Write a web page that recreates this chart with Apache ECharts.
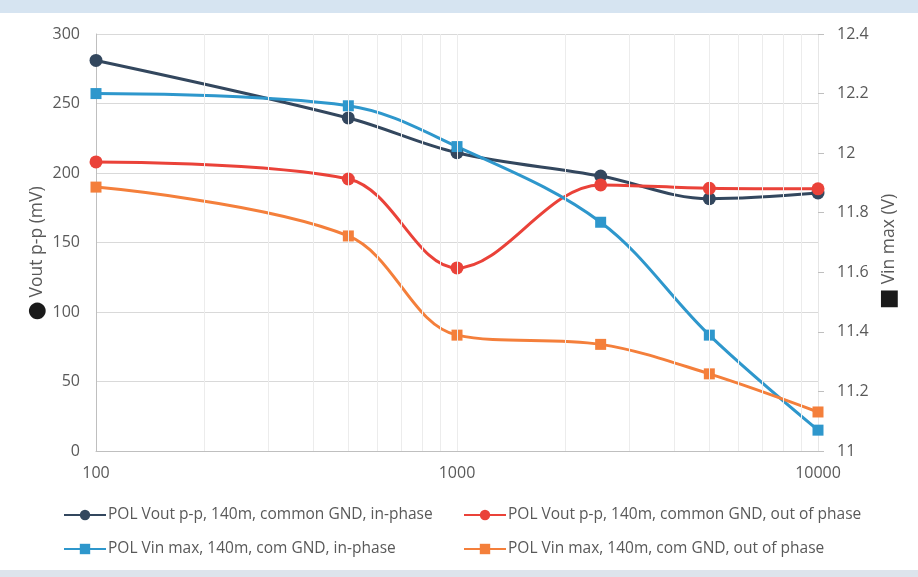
<!DOCTYPE html>
<html><head><meta charset="utf-8">
<script src="https://cdn.jsdelivr.net/npm/echarts@6/dist/echarts.min.js"></script>
<style>html,body{margin:0;padding:0;background:#fff}#c{width:918px;height:577px}
#topband{position:absolute;left:0;top:0;width:918px;height:13px;background:#d6e4f1}
#botband{position:absolute;left:0;top:570px;width:918px;height:7px;background:#dde4ec}</style>
</head><body>
<div id="c"></div><div id="topband"></div><div id="botband"></div>
<script>
const freqs = [100, 500, 1000, 2500, 5000, 10000];
const voutInPhase = [281, 239.6, 214.6, 197.8, 181.5, 185.6];
const voutOutPhase = [208, 195.7, 131.7, 191.4, 189, 188.6];
const vinInPhase = [12.2, 12.159, 12.022, 11.768, 11.389, 11.07];
const vinOutPhase = [11.886, 11.722, 11.389, 11.358, 11.259, 11.131];
const minorFreqs = [200,300,400,500,600,700,800,900,1000,2000,3000,4000,5000,6000,7000,8000,9000];
const seriesNames = [
  'POL Vout p-p, 140m, common GND, in-phase',
  'POL Vout p-p, 140m, common GND, out of phase',
  'POL Vin max, 140m, com GND, in-phase',
  'POL Vin max, 140m, com GND, out of phase'
];
const colors = ['#33475e', '#ea4239', '#2e97cc', '#f47f3b'];

const font = 'Open Sans';
const txt = '#595959';
function pairs(vals){ return freqs.map((f,i)=>[f, vals[i]]); }
function mkSeries(i, vals, yIdx, sym, size){
  return {
    name: seriesNames[i], type: 'line', yAxisIndex: yIdx, data: pairs(vals),
    smooth: 0.35, symbol: sym, symbolSize: size, showSymbol: true,
    lineStyle: {width: 3, color: colors[i]}, itemStyle: {color: colors[i]},
    z: 3
  };
}
const nameRich = {
  dot: {color: '#1a1a1a', fontSize: 22, fontFamily: 'DejaVu Sans', padding: [0,4,0,0]},
  t: {color: txt, fontSize: 17.5, fontFamily: font}
};
const chart = echarts.init(document.getElementById('c'), null, {renderer:'canvas'});
chart.setOption({
  animation: false,
  grid: {left: 96, right: 100, top: 34, bottom: 126},
  xAxis: {
    type: 'log', logBase: 10, min: 100, max: 10000,
    axisLine: {show: true, lineStyle: {color: '#bfbfbf', width: 1}},
    axisTick: {show: false},
    axisLabel: {color: txt, fontFamily: font, fontSize: 16, margin: 14, formatter: v => String(v)},
    splitLine: {show: true, lineStyle: {color: '#e6e6e6', width: 1}},
    minorTick: {show: false}
  },
  yAxis: [{
    type: 'value', min: 0, max: 300, interval: 50,
    name: '{dot|\u25CF}{t|Vout p-p (mV)}', nameLocation: 'middle', nameGap: 48, nameRotate: 90,
    nameMoveOverlap: false,
    nameTextStyle: {rich: nameRich, padding: [0, 22, 0, 0]},
    axisLine: {show: true, lineStyle: {color: '#bfbfbf'}},
    axisTick: {show: false},
    axisLabel: {color: txt, fontFamily: font, fontSize: 16, margin: 16},
    splitLine: {show: true, lineStyle: {color: '#d9d9d9', width: 1}}
  },{
    type: 'value', min: 11, max: 12.4, interval: 0.2, position: 'right',
    name: '{dot|\u25A0}{t|Vin max (V)}', nameLocation: 'middle', nameGap: 60, nameRotate: 90,
    nameMoveOverlap: false,
    nameTextStyle: {rich: nameRich, padding: [0, 18, 0, 0]},
    axisLine: {show: false},
    axisTick: {show: true, length: 6, lineStyle: {color: '#bfbfbf'}},
    axisLabel: {color: txt, fontFamily: font, fontSize: 16, margin: 19,
      formatter: v => String(Math.round(v*10)/10)},
    splitLine: {show: false}
  }],
  legend: [{
    data: [seriesNames[0], seriesNames[2]], orient: 'vertical', left: 58, top: 502,
    itemGap: 18, itemWidth: 42, itemHeight: 13,
    textStyle: {color: txt, fontFamily: font, fontSize: 15.5, padding: [0,0,0,-3]}
  },{
    data: [seriesNames[1], seriesNames[3]], orient: 'vertical', left: 458, top: 502,
    itemGap: 18, itemWidth: 42, itemHeight: 13,
    textStyle: {color: txt, fontFamily: font, fontSize: 15.5, padding: [0,0,0,-3]}
  }],
  series: [
    {
      type: 'line', data: [], silent: true, z: 1,
      markLine: {
        silent: true, symbol: ['none','none'], label: {show: false},
        lineStyle: {color: '#ececec', width: 1, type: 'solid'},
        data: minorFreqs.map(f => ({xAxis: f}))
      }
    },
    mkSeries(0, voutInPhase, 0, 'circle', 13),
    mkSeries(1, voutOutPhase, 0, 'circle', 13),
    mkSeries(2, vinInPhase, 1, 'rect', 11),
    mkSeries(3, vinOutPhase, 1, 'rect', 11)
  ]
});
</script>
</body></html>
